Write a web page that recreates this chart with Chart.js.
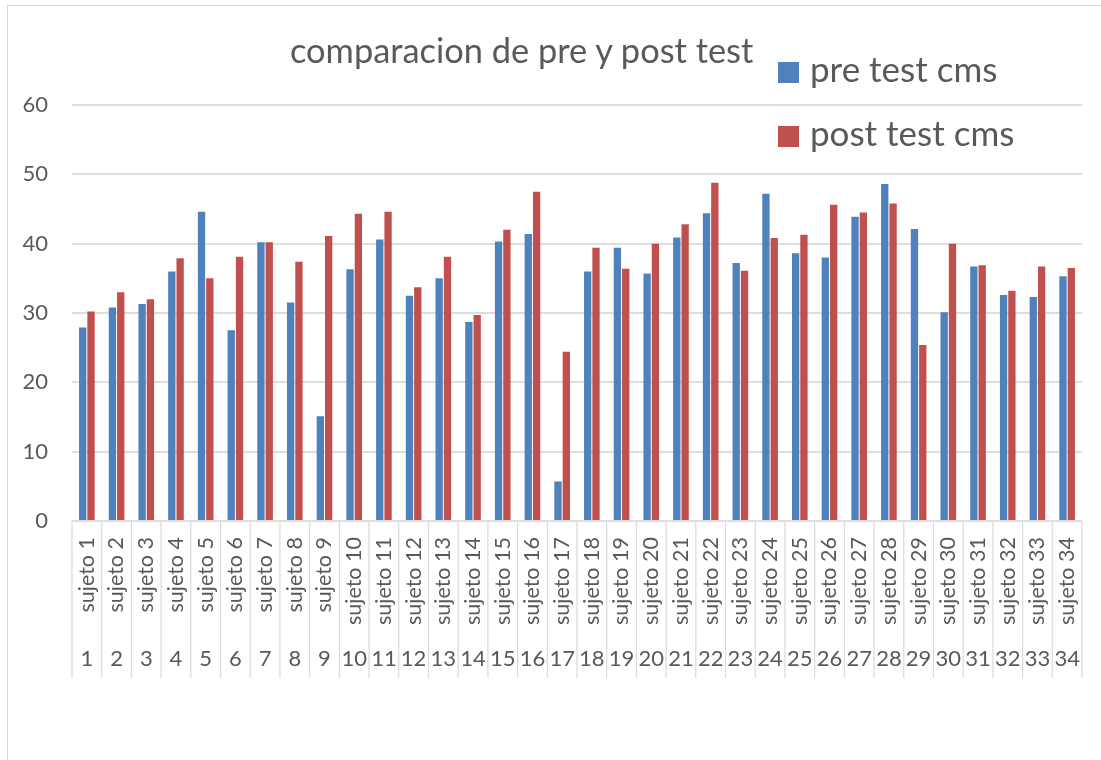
<!DOCTYPE html>
<html>
<head>
<meta charset="utf-8">
<script src="https://cdn.jsdelivr.net/npm/chart.js@4.4.1/dist/chart.umd.min.js"></script>
<style>
  body { margin: 0; background: #fff; overflow: hidden; }
  #marco { position: absolute; left: 7px; top: 5px; width: 1110px; height: 800px; border: 1px solid #d9d9d9; box-sizing: border-box; }
  #caja { position: absolute; left: 0; top: 0; width: 1101px; height: 760px; }
  #titulo { position: absolute; left: 290px; top: 30px; font-family: Lato, sans-serif; font-size: 34.4px; color: #595959; white-space: nowrap; line-height: 40px; }
  .ley { position: absolute; left: 778px; font-family: Lato, sans-serif; font-size: 35px; color: #595959; white-space: nowrap; line-height: 40px; }
  .ley span { display: inline-block; width: 21px; height: 21px; margin-right: 11px; vertical-align: -1px; }
</style>
</head>
<body>
<div id="marco"></div>
<div id="caja"><canvas id="grafico"></canvas></div>
<div id="titulo">comparacion de pre y post test</div>
<div id="leyenda"></div>
<script>
// datos
var sujetos = ['sujeto 1','sujeto 2','sujeto 3','sujeto 4','sujeto 5','sujeto 6','sujeto 7','sujeto 8','sujeto 9','sujeto 10',
  'sujeto 11','sujeto 12','sujeto 13','sujeto 14','sujeto 15','sujeto 16','sujeto 17','sujeto 18','sujeto 19','sujeto 20',
  'sujeto 21','sujeto 22','sujeto 23','sujeto 24','sujeto 25','sujeto 26','sujeto 27','sujeto 28','sujeto 29','sujeto 30',
  'sujeto 31','sujeto 32','sujeto 33','sujeto 34'];
var numeros = ['1','2','3','4','5','6','7','8','9','10','11','12','13','14','15','16','17','18','19','20',
  '21','22','23','24','25','26','27','28','29','30','31','32','33','34'];
var preTest = [27.9, 30.8, 31.3, 36.0, 44.6, 27.5, 40.2, 31.5, 15.1, 36.3, 40.6, 32.5, 35.0, 28.7, 40.3, 41.4, 5.7,
  36.0, 39.4, 35.7, 40.9, 44.4, 37.2, 47.2, 38.6, 38.0, 43.9, 48.6, 42.1, 30.1, 36.7, 32.6, 32.3, 35.3];
var postTest = [30.2, 33.0, 32.0, 37.9, 35.0, 38.1, 40.2, 37.4, 41.1, 44.3, 44.6, 33.7, 38.1, 29.7, 42.0, 47.5, 24.4,
  39.4, 36.4, 40.0, 42.8, 48.8, 36.1, 40.8, 41.3, 45.6, 44.5, 45.8, 25.4, 40.0, 36.9, 33.2, 36.7, 36.5];
var ticksY = [0, 10, 20, 30, 40, 50, 60];

var gris = '#595959';
var fuente = 'Lato, sans-serif';

var series = [
  { label: 'pre test cms', data: preTest, color: '#4F81BD' },
  { label: 'post test cms', data: postTest, color: '#C0504D' }
];

// lineas separadoras de categorias bajo el eje
var separadores = {
  id: 'separadores',
  afterDraw: function(chart) {
    var x = chart.scales.x, x2 = chart.scales.x2, ctx = chart.ctx;
    var n = sujetos.length;
    ctx.save();
    ctx.strokeStyle = '#dadada';
    ctx.lineWidth = 1.2;
    for (var i = 0; i <= n; i++) {
      var px;
      if (i == 0) px = x.left;
      else if (i == n) px = x.right;
      else px = (x.getPixelForTick(i - 1) + x.getPixelForTick(i)) / 2;
      ctx.beginPath();
      ctx.moveTo(px, x.top);
      ctx.lineTo(px, x2.bottom);
      ctx.stroke();
    }
    ctx.restore();
  }
};

var config = {
  type: 'bar',
  data: {
    labels: sujetos,
    datasets: series.map(function(s) {
      return {
        label: s.label,
        data: s.data,
        backgroundColor: s.color,
        borderWidth: 0,
        barPercentage: 0.88,
        categoryPercentage: 0.56
      };
    })
  },
  options: {
    responsive: true,
    maintainAspectRatio: false,
    animation: false,
    layout: { padding: { top: 105, right: 19, bottom: 82, left: 0 } },
    plugins: {
      legend: { display: false },
      title: { display: false },
      tooltip: { enabled: false }
    },
    scales: {
      x: {
        type: 'category',
        grid: { display: false, drawTicks: false },
        border: { display: false },
        ticks: { color: gris, font: { family: fuente, size: 21.5 }, minRotation: 90, maxRotation: 90, padding: 16, autoSkip: false },
        afterFit: function(axis) { axis.height = 117; axis.paddingLeft = 0; axis.paddingRight = 0; }
      },
      x2: {
        type: 'category',
        position: 'bottom',
        labels: numeros,
        grid: { display: false, drawTicks: false },
        border: { display: false },
        ticks: { color: gris, font: { family: fuente, size: 22 }, maxRotation: 0, padding: 8, autoSkip: false },
        afterFit: function(axis) { axis.height = 40; axis.paddingLeft = 0; axis.paddingRight = 0; }
      },
      y: {
        min: 0,
        max: 60,
        afterBuildTicks: function(axis) { axis.ticks = ticksY.map(function(v) { return { value: v }; }); },
        grid: { color: '#dedede', lineWidth: 2, drawTicks: false },
        border: { display: false },
        ticks: { color: gris, font: { family: fuente, size: 22 }, padding: 24 },
        afterFit: function(axis) { axis.width = 72; }
      }
    }
  },
  plugins: [separadores]
};

var miGrafico = new Chart(document.getElementById('grafico'), config);

// leyenda a la derecha, encima del area del grafico
var leyenda = document.getElementById('leyenda');
series.forEach(function(s, i) {
  var d = document.createElement('div');
  d.className = 'ley';
  d.style.top = (48 + i * 64) + 'px';
  var cuadro = document.createElement('span');
  cuadro.style.background = s.color;
  d.appendChild(cuadro);
  d.appendChild(document.createTextNode(s.label));
  leyenda.appendChild(d);
});
</script>
</body>
</html>
